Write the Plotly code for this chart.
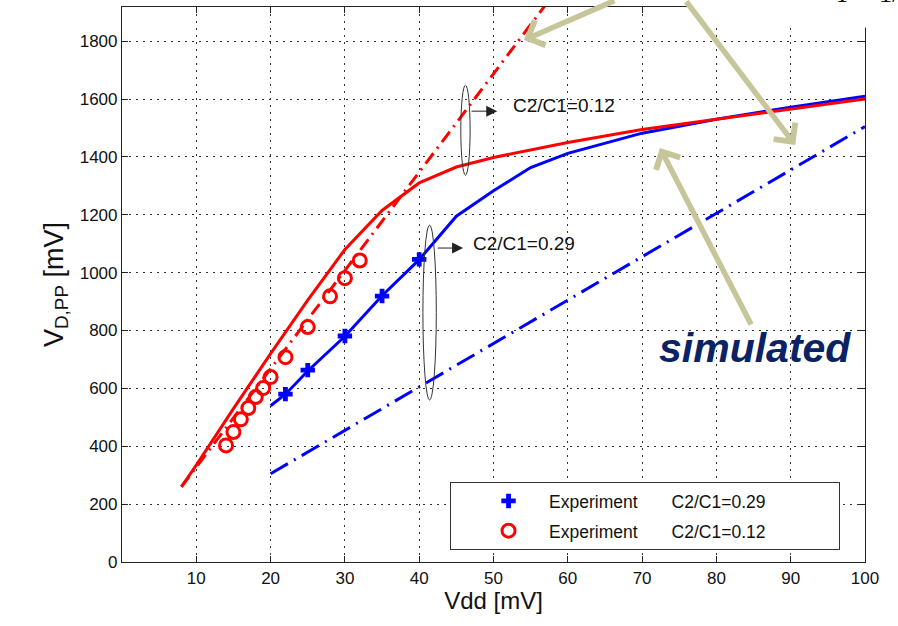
import plotly.graph_objects as go

# Simulated curves (Vdd in mV, V_D,PP in mV)
vdd_sim_012 = [8, 10, 15, 20, 25, 30, 35, 40, 45, 50, 60, 70, 80, 90, 100]
vpp_sim_012 = [260, 335, 530, 720, 905, 1080, 1215, 1310, 1365, 1398, 1450, 1495, 1530, 1565, 1600]

vdd_sim_029 = [20, 22, 25, 30, 35, 40, 45, 50, 55, 60, 70, 80, 90, 100]
vpp_sim_029 = [540, 580, 660, 780, 920, 1045, 1195, 1283, 1363, 1412, 1482, 1530, 1572, 1610]

# Linear approximations
vdd_lin_012 = [8, 57]
vpp_lin_012 = [260, 1925]
vdd_lin_029 = [20, 100]
vpp_lin_029 = [305, 1505]

# Measured points
vdd_exp_029 = [22, 25, 30, 35, 40]
vpp_exp_029 = [580, 663, 781, 919, 1046]
vdd_exp_012 = [14, 15, 16, 17, 18, 19, 20, 22, 25, 28, 30, 32]
vpp_exp_012 = [403, 449, 493, 532, 570, 601, 639, 708, 812, 918, 981, 1042]

x_ticks = [10, 20, 30, 40, 50, 60, 70, 80, 90, 100]
y_ticks = [0, 200, 400, 600, 800, 1000, 1200, 1400, 1600, 1800]

RED = "#FF0000"
BLUE = "#0000FF"
OLIVE = "#C6C69A"
FONT = "Liberation Sans, Arial, sans-serif"

SP = "&nbsp;"

fig = go.Figure()

fig.add_trace(go.Scatter(x=vdd_lin_029, y=vpp_lin_029, mode="lines",
                         line=dict(color=BLUE, width=3, dash="20px,7px,2px,7px"),
                         showlegend=False, hoverinfo="skip"))
fig.add_trace(go.Scatter(x=vdd_lin_012, y=vpp_lin_012, mode="lines",
                         line=dict(color=RED, width=3, dash="13px,6px,2px,6px"),
                         showlegend=False, hoverinfo="skip"))
fig.add_trace(go.Scatter(x=vdd_sim_029, y=vpp_sim_029, mode="lines",
                         line=dict(color=BLUE, width=3),
                         showlegend=False, hoverinfo="skip"))
fig.add_trace(go.Scatter(x=vdd_sim_012, y=vpp_sim_012, mode="lines",
                         line=dict(color=RED, width=3),
                         showlegend=False, hoverinfo="skip"))

fig.add_trace(go.Scatter(x=vdd_exp_029, y=vpp_exp_029, mode="markers",
                         marker=dict(symbol="cross", size=12, color=BLUE),
                         name="Experiment" + SP * 7 + "C2/C1=0.29" + SP * 14,
                         legendgroup="a"))
fig.add_trace(go.Scatter(x=vdd_exp_012, y=vpp_exp_012, mode="markers",
                         marker=dict(symbol="circle-open", size=13, color=RED,
                                     line=dict(width=3, color=RED)),
                         name="Experiment" + SP * 7 + "C2/C1=0.12" + SP * 14,
                         legendgroup="b"))

shapes = [
    # grouping ellipses
    dict(type="circle", xref="x", yref="y", x0=45.6, x1=46.85, y0=1337, y1=1648,
         line=dict(color="#333", width=1)),
    dict(type="circle", xref="x", yref="y", x0=40.5, x1=42.3, y0=560, y1=1164,
         line=dict(color="#333", width=1)),
    # blank area at top right of the frame
    dict(type="rect", xref="paper", yref="paper", x0=0.7645, x1=1.2, y0=0.963, y1=1.1,
         fillcolor="white", line=dict(width=0), layer="above"),
]

annotations = [
    # pointer arrows from the ellipses to their labels
    dict(x=50.5, y=1558, ax=46.85, ay=1558, xref="x", yref="y", axref="x", ayref="y",
         text="", showarrow=True, arrowhead=2, arrowsize=2.2, arrowwidth=1, arrowcolor="#222",
         standoff=0, startstandoff=0),
    dict(x=45.9, y=1085, ax=42.3, ay=1085, xref="x", yref="y", axref="x", ayref="y",
         text="", showarrow=True, arrowhead=2, arrowsize=2.2, arrowwidth=1, arrowcolor="#222",
         standoff=0, startstandoff=0),
    dict(x=52.4, y=1576, xref="x", yref="y", text="C2/C1=0.12", showarrow=False,
         xanchor="left", yanchor="middle", font=dict(family=FONT, size=19, color="#111")),
    dict(x=47.0, y=1100, xref="x", yref="y", text="C2/C1=0.29", showarrow=False,
         xanchor="left", yanchor="middle", font=dict(family=FONT, size=19, color="#111")),
    # callout arrows
    dict(x=54.1, y=1804, xref="x", yref="y", ax=92, ay=-50, text="", showarrow=True,
         arrowhead=4, arrowsize=0.95, arrowwidth=5.5, arrowcolor=OLIVE, standoff=0),
    dict(x=90.6, y=1441, xref="x", yref="y", ax=-110, ay=-157, text="", showarrow=True,
         arrowhead=4, arrowsize=0.95, arrowwidth=5.5, arrowcolor=OLIVE, standoff=0),
    dict(x=72.4, y=1431, xref="x", yref="y", ax=92, ay=178, text="", showarrow=True,
         arrowhead=4, arrowsize=0.95, arrowwidth=5.5, arrowcolor=OLIVE, standoff=0),
    dict(x=0.852, y=0.386, xref="paper", yref="paper", text="<b><i>simulated</i></b>",
         showarrow=False, xanchor="center", yanchor="middle",
         font=dict(family=FONT, size=41, color="#0B2265")),
    dict(x=0.955, y=0.9946, xref="paper", yref="paper", text="T = 1/a",
         showarrow=False, xanchor="left", yanchor="bottom",
         font=dict(family="Liberation Serif, Times New Roman, serif", size=27, color="#111")),
]

axis_common = dict(
    showline=True, linecolor="#222", linewidth=1.2, mirror="ticks",
    ticks="inside", ticklen=6, tickcolor="#222", tickwidth=1,
    showgrid=True, gridcolor="#333", gridwidth=1, griddash="2px,5px",
    zeroline=False, tickfont=dict(family=FONT, size=17, color="#111"),
)

fig.update_layout(
    width=898, height=626,
    margin=dict(l=122, r=33, t=7, b=64),
    paper_bgcolor="white", plot_bgcolor="white",
    font=dict(family=FONT, color="#111"),
    xaxis=dict(range=[0, 100], tickvals=x_ticks,
               title=dict(text="Vdd [mV]", font=dict(family=FONT, size=24, color="#111"), standoff=4),
               **axis_common),
    yaxis=dict(range=[0, 1918], tickvals=y_ticks,
               title=dict(text="V<sub>D,PP</sub> [mV]", font=dict(family=FONT, size=27, color="#111"), standoff=8),
               **axis_common),
    legend=dict(x=0.4415, y=0.144, xanchor="left", yanchor="top",
                bgcolor="white", bordercolor="#333", borderwidth=1,
                font=dict(family=FONT, size=17.5, color="#111"),
                indentation=17, itemwidth=71, tracegroupgap=4),
    shapes=shapes,
    annotations=annotations,
)

fig.write_html("out.html")
